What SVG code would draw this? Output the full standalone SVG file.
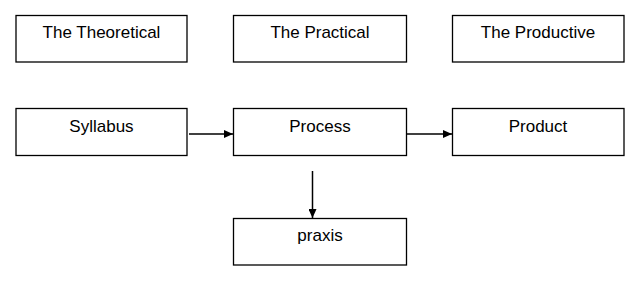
<svg xmlns="http://www.w3.org/2000/svg" width="640" height="281" viewBox="0 0 640 281">
<style>
.box{fill:#fff;stroke:#000;stroke-width:1.3}
.t{font-family:"Liberation Sans",Arial,sans-serif;font-size:17px;fill:#000;text-anchor:middle}
.c{stroke:#000;stroke-width:1.5;fill:none}
</style>
<defs>
<marker id="ah" markerWidth="9" markerHeight="8" refX="9" refY="4" orient="auto" markerUnits="userSpaceOnUse">
<path d="M0,0 L9,4 L0,8 Z" fill="#000"/>
</marker>
</defs>
<rect width="640" height="281" fill="#fff"/>
<g id="theoretical"><rect class="box" x="16" y="15.5" width="171" height="46.5"/><text class="t" x="101.5" y="38">The Theoretical</text></g>
<g id="practical"><rect class="box" x="233.5" y="15.5" width="173" height="46.5"/><text class="t" x="320" y="38">The Practical</text></g>
<g id="productive"><rect class="box" x="452.5" y="15.5" width="171.5" height="46.5"/><text class="t" x="538" y="38">The Productive</text></g>
<g id="syllabus"><rect class="box" x="16" y="108.5" width="171" height="47"/><text class="t" x="101.5" y="131.5">Syllabus</text></g>
<g id="process"><rect class="box" x="233.5" y="108.5" width="173" height="47"/><text class="t" x="320" y="131.5">Process</text></g>
<g id="product"><rect class="box" x="452.5" y="108.5" width="171.5" height="47"/><text class="t" x="538" y="131.5">Product</text></g>
<g id="praxis"><rect class="box" x="233.5" y="218.5" width="173" height="46.5"/><text class="t" x="320" y="241">praxis</text></g>
<g id="connectors">
<line class="c" x1="189" y1="134" x2="233" y2="134" marker-end="url(#ah)"/>
<line class="c" x1="407" y1="134" x2="452" y2="134" marker-end="url(#ah)"/>
<line class="c" x1="312.5" y1="171" x2="312.5" y2="218" marker-end="url(#ah)"/>
</g>
</svg>
